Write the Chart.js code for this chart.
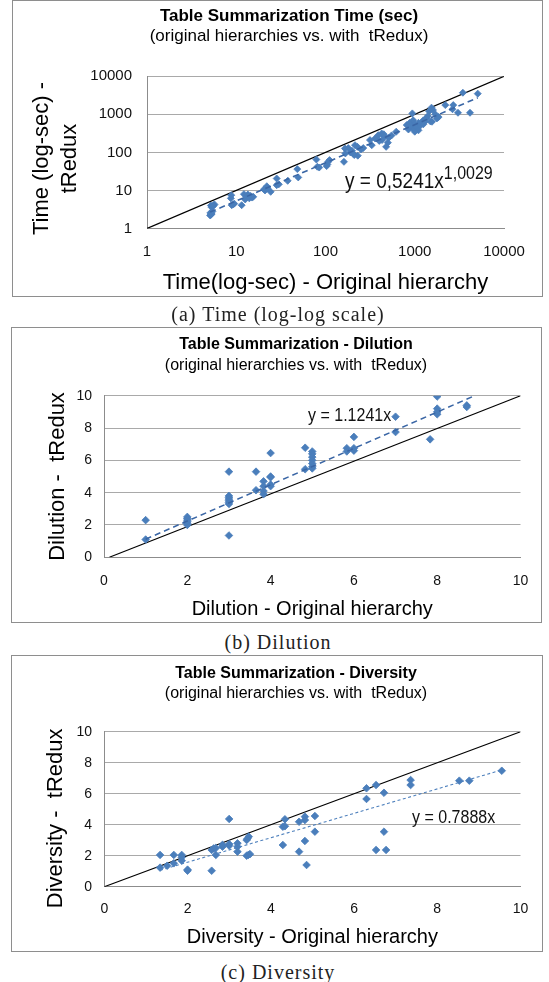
<!DOCTYPE html>
<html><head><meta charset="utf-8">
<script src="https://cdn.jsdelivr.net/npm/chart.js@4.4.1/dist/chart.umd.min.js"></script>
<style>
html,body{margin:0;padding:0;background:#fff;width:549px;height:982px;overflow:hidden;position:relative;}
canvas{position:absolute;}
.frame{position:absolute;border:1px solid #8e8e8e;box-sizing:border-box;}
.t{position:absolute;font-family:"Liberation Sans",Arial,sans-serif;color:#000;white-space:pre;transform:translate(-50%,-50%);line-height:1.15;}
.b{font-weight:bold;}
.cap{position:absolute;font-family:"Liberation Serif","Times New Roman",serif;font-size:20px;letter-spacing:1px;color:#222;white-space:pre;transform:translate(-50%,-50%);line-height:1.15;}
.eq{position:absolute;font-family:"Liberation Sans",Arial,sans-serif;color:#111;white-space:pre;line-height:1;transform-origin:0 85%;transform:scaleY(1.15);}
</style>
</head><body>
<canvas id="c1"></canvas><div class="frame" id="f1"></div>
<canvas id="c2"></canvas><div class="frame" id="f2"></div>
<canvas id="c3"></canvas><div class="frame" id="f3"></div>

<div class="t b" style="left:289px;top:16px;font-size:17px">Table Summarization Time (sec)</div>
<div class="t" style="left:289px;top:36px;font-size:17px">(original hierarchies vs. with  tRedux)</div>
<div class="eq" style="left:345px;top:167px;font-size:19px">y = 0,5241x<span style="font-size:16px;vertical-align:8px">1,0029</span></div>
<div class="cap" style="left:278px;top:314px">(a) Time (log-log scale)</div>

<div class="t b" style="left:296px;top:344px;font-size:16px">Table Summarization - Dilution</div>
<div class="t" style="left:296px;top:365px;font-size:16px">(original hierarchies vs. with  tRedux)</div>
<div class="eq" style="left:308px;top:408px;font-size:16px">y = 1.1241x</div>
<div class="cap" style="left:278px;top:642px">(b) Dilution</div>

<div class="t b" style="left:296px;top:673px;font-size:16px">Table Summarization - Diversity</div>
<div class="t" style="left:296px;top:693px;font-size:16px">(original hierarchies vs. with  tRedux)</div>
<div class="eq" style="left:412px;top:810px;font-size:16px">y = 0.7888x</div>
<div class="cap" style="left:278px;top:972px">(c) Diversity</div>

<script>
// ---------- DATA ----------
const timeTicks = [1, 10, 100, 1000, 10000];
const linTicks = [0, 2, 4, 6, 8, 10];

// (a) Time: original hierarchy (x) vs tRedux (y), seconds
const timeOrig = [5.1,5.2,5.2,5.3,5.15,5.4,5.2,5.3,5.6,5.7,5.5,8.9,9.2,8.7,8.8,9.5,11.5,12.2,12.6,13,14,15,14.5,13.5,15.5,20.5,21,22,22.5,24.3,28.4,28.4,30,37.7,48.3,49.5,79,81,85,103,107,111,105,161,165,167,190,198,205,214,228,230,250,265,315,330,360,390,426,430,478,500,510,550,620,460,400,813,850,880,920,940,960,1000,1000,1050,1100,1150,1200,1250,1300,1350,1400,1450,1540,1600,1770,1700,2200,2650,2700,3050,3460,4160,5080,900,1000,1100,1250,1500,180,210,450,1850,1560];
const timeRedux = [2.2,2.3,2.5,2.4,2.6,2.8,4.0,3.6,4.1,4.3,3.9,4.1,4.3,6.2,7.5,4.5,4.1,8.0,5.8,6.8,6.2,6.5,7.2,7.8,6.8,10.8,10,12.9,11.5,9.2,20.6,13.8,14.5,17.9,36.4,22,65,42,40,43.6,56.6,62.7,48,56.6,127,94,100,110,92,155,140,82,120,130,211,155,232,283,314,211,140,180,240,280,350,260,200,523,400,600,450,1060,700,550,400,450,600,500,620,700,640,800,900,1200,1500,1300,780,1000,1750,1360,1750,1100,3700,1100,3500,500,350,380,550,650,130,85,300,850,640];
const timeTrendX = [5.1, 5080];
const timeTrendY = [2.7, 2730];
const timeDiagX = [1, 10000];
const timeDiagY = [1, 10000];

// (b) Dilution
const dilOrig = [1,1,2,2,2,2,2,2,3,3,3,3,3,3,3,3,3.65,3.65,3.83,3.83,3.83,3.83,4,4,4,4,4,4.83,4.83,5,5,5,5,5,5,5,5.83,5.83,6,6,6,7,7,7.83,8,8,8,8,8.71,8.71];
const dilRedux = [2.3,1.1,2.5,2.4,2.3,2.2,2.1,2.0,5.3,3.8,3.7,3.6,3.5,3.4,3.3,1.35,5.3,4.15,4.7,4.4,4.1,3.9,6.45,5.0,4.95,4.5,4.4,6.78,5.45,6.55,6.4,6.2,6.0,5.8,5.6,5.5,6.75,6.55,7.45,6.75,6.6,8.7,7.75,7.3,9.95,9.2,9.0,8.85,9.4,9.3];
const dilTrendX = [1, 8.9];
const dilTrendY = [1.12, 10];
const dilDiagX = [0.13, 10];
const dilDiagY = [0, 10];

// (c) Diversity
const divOrig = [1.34,1.34,1.51,1.67,1.67,1.86,1.86,1.86,2.0,2.0,2.58,2.58,2.63,2.68,2.68,2.84,2.84,3.0,3.0,3.0,3.2,3.2,3.2,3.42,3.47,3.44,3.46,3.42,3.5,4.29,4.34,4.34,4.29,4.68,4.68,4.82,4.82,4.82,4.86,5.06,5.06,6.3,6.3,6.53,6.53,6.72,6.72,6.77,7.36,7.36,8.53,8.77,9.55];
const divRedux = [2.05,1.23,1.35,2.05,1.51,2.05,1.68,1.9,1.03,1.1,1.03,2.37,2.47,2.05,2.5,2.58,2.7,4.37,2.75,2.65,2.8,2.58,2.26,3.01,3.23,3.1,2.05,2.0,2.1,3.87,4.35,3.9,2.69,4.19,2.26,4.52,4.3,2.95,1.4,4.56,3.55,6.35,5.66,6.56,2.37,6.06,3.55,2.37,6.88,6.56,6.84,6.84,7.48];
const divTrendX = [1.34, 9.55];
const divTrendY = [1.06, 7.53];
const divDiagX = [0, 10];
const divDiagY = [0, 10];

// ---------- BUILD ----------
const FONT = '"Liberation Sans", Arial, sans-serif';
const pts = (xs, ys) => xs.map((x, i) => ({x: x, y: ys[i]}));

function buildPanel(p) {
  const fr = p.frame, pl = p.plot;
  const cv = document.getElementById(p.id);
  const fd = document.getElementById(p.fid);
  const W = fr.r - fr.l, H = fr.b - fr.t;
  [cv, fd].forEach(el => { el.style.left = fr.l + 'px'; el.style.top = fr.t + 'px'; el.style.width = W + 'px'; el.style.height = H + 'px'; });
  cv.width = W; cv.height = H;
  const yAxisW = pl.l - fr.l;
  const xAxisH = fr.b - pl.b;
  const tickLH = p.tickSize * 1.2;
  const xTickPad = (p.xTickY - pl.b) - tickLH / 2;
  const yTickPad = pl.l - p.yTickRight;
  const yTitlePad = (p.yTitleX - fr.l) - p.yTitleLH / 2;
  const xTitleLH = p.xTitleSize * 1.2;
  const xTitlePad = H - (p.xTitleY - fr.t) - xTitleLH / 2;
  const axisCommon = (ticksArr) => ({
    type: p.type, min: ticksArr[0], max: ticksArr[ticksArr.length - 1],
    border: {display: true, color: '#8c8c8c', width: 1},
    afterBuildTicks: (s) => { s.ticks = ticksArr.map(v => ({value: v})); }
  });
  new Chart(cv, {
    type: 'scatter',
    data: {datasets: [
      {label: 'trend', data: pts(p.trendX, p.trendY), showLine: true, borderColor: p.trendColor, borderWidth: p.trendWidth, borderDash: p.trendDash, pointRadius: 0, fill: false},
      {label: 'points', data: pts(p.xs, p.ys), showLine: false, pointStyle: 'rectRot', pointRadius: p.radius, backgroundColor: '#4a7ebb', borderColor: '#4a7ebb', borderWidth: 0.8},
      {label: 'diag', data: pts(p.diagX, p.diagY), showLine: true, borderColor: '#000', borderWidth: 1.2, pointRadius: 0, fill: false}
    ]},
    options: {
      responsive: false, animation: false, devicePixelRatio: 1,
      layout: {padding: {left: 0, top: pl.t - fr.t, right: fr.r - pl.r, bottom: 0}},
      plugins: {legend: {display: false}, tooltip: {enabled: false}, title: {display: false}},
      scales: {
        x: Object.assign(axisCommon(p.ticks), {
          position: 'bottom',
          grid: {display: false, drawTicks: false},
          ticks: {padding: xTickPad, font: {family: FONT, size: p.tickSize}, color: '#111', maxRotation: 0, autoSkip: false, callback: (v) => String(v)},
          title: {display: true, text: p.xTitle, font: {family: FONT, size: p.xTitleSize}, color: '#000', padding: {top: 0, bottom: xTitlePad}},
          afterFit: (s) => { s.height = xAxisH; s.paddingLeft = 0; s.paddingRight = 0; }
        }),
        y: Object.assign(axisCommon(p.ticks), {
          position: 'left',
          grid: {display: true, color: '#a9a9a9', lineWidth: 1, drawTicks: false},
          ticks: {padding: yTickPad, font: {family: FONT, size: p.tickSize}, color: '#111', autoSkip: false, callback: (v) => String(v)},
          title: {display: true, text: p.yTitle, font: {family: FONT, size: 22, lineHeight: p.yTitleLH / 22}, color: '#000', padding: {top: yTitlePad, bottom: 0}},
          afterFit: (s) => { s.width = yAxisW; s.paddingTop = 0; s.paddingBottom = 0; }
        })
      }
    }
  });
}

buildPanel({
  id: 'c1', fid: 'f1', type: 'logarithmic', ticks: timeTicks, radius: 3.5,
  frame: {l: 12, t: 0, r: 543, b: 297}, plot: {l: 147, t: 76.3, r: 504, b: 228.5},
  xs: timeOrig, ys: timeRedux, trendX: timeTrendX, trendY: timeTrendY, diagX: timeDiagX, diagY: timeDiagY,
  trendColor: '#3a66a5', trendWidth: 1.6, trendDash: [6, 4],
  tickSize: 15, xTickY: 252, yTickRight: 132,
  xTitle: 'Time(log-sec) - Original hierarchy', xTitleSize: 22, xTitleY: 283,
  yTitle: ['Time (log-sec) -  ', 'tRedux  '], yTitleX: 42, yTitleLH: 28
});
buildPanel({
  id: 'c2', fid: 'f2', type: 'linear', ticks: linTicks, radius: 3.8,
  frame: {l: 11, t: 327, r: 542, b: 623}, plot: {l: 104, t: 395.7, r: 520.5, b: 557.3},
  xs: dilOrig, ys: dilRedux, trendX: dilTrendX, trendY: dilTrendY, diagX: dilDiagX, diagY: dilDiagY,
  trendColor: '#3a66a5', trendWidth: 1.5, trendDash: [6, 4],
  tickSize: 14, xTickY: 580.7, yTickRight: 92,
  xTitle: 'Dilution - Original hierarchy', xTitleSize: 20, xTitleY: 609.3,
  yTitle: 'Dilution -  tRedux', yTitleX: 57.7, yTitleLH: 26.4
});
buildPanel({
  id: 'c3', fid: 'f3', type: 'linear', ticks: linTicks, radius: 3.8,
  frame: {l: 11, t: 655, r: 543, b: 952}, plot: {l: 104.3, t: 731.7, r: 520.5, b: 886.7},
  xs: divOrig, ys: divRedux, trendX: divTrendX, trendY: divTrendY, diagX: divDiagX, diagY: divDiagY,
  trendColor: '#4f81bd', trendWidth: 1.1, trendDash: [3, 2.5],
  tickSize: 14, xTickY: 909.3, yTickRight: 92,
  xTitle: 'Diversity - Original hierarchy', xTitleSize: 20, xTitleY: 937.7,
  yTitle: 'Diversity -  tRedux   ', yTitleX: 56, yTitleLH: 26.4
});
</script>
</body></html>
